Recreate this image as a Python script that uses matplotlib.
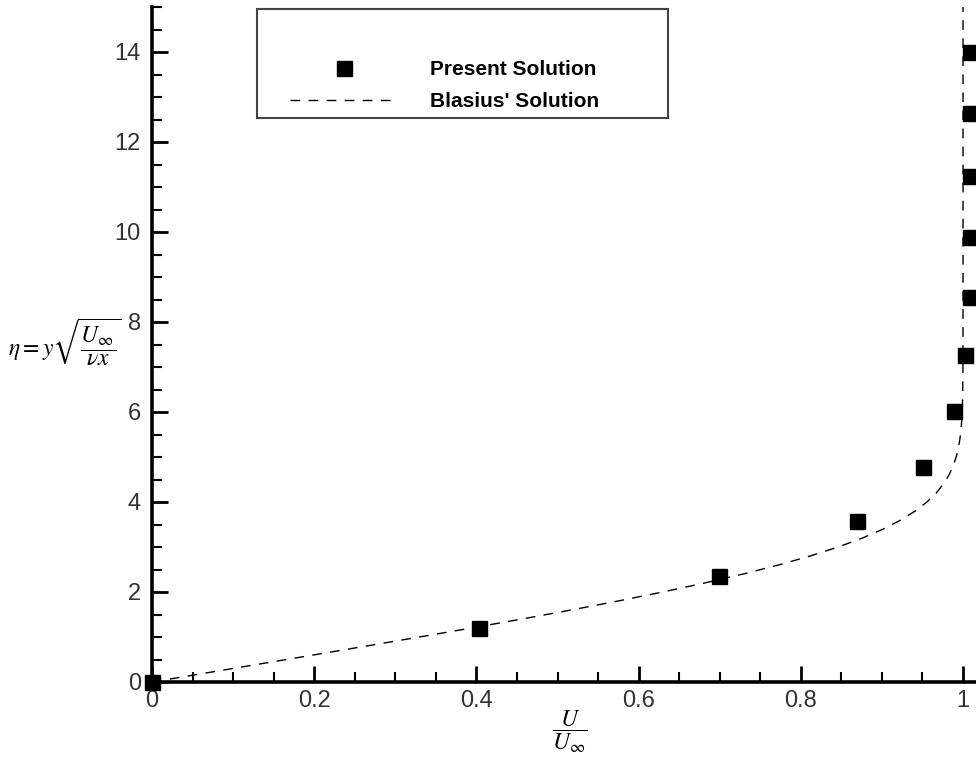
import numpy as np
import matplotlib
matplotlib.use("Agg")
import matplotlib.pyplot as plt
from matplotlib.ticker import MultipleLocator, FormatStrFormatter
from matplotlib.patches import Rectangle

plt.rcParams['font.family'] = ['Liberation Sans', 'DejaVu Sans']
plt.rcParams['mathtext.fontset'] = 'stix'

# present solution
present_u = [0.0, 0.403, 0.699, 0.869, 0.951, 0.989, 1.003, 1.009, 1.009, 1.009, 1.009, 1.009]
present_eta = [0.0, 1.2, 2.36, 3.57, 4.78, 6.02, 7.27, 8.56, 9.89, 11.24, 12.64, 14.0]

# Blasius profile f'(eta)
blasius_eta = [0.0, 0.2, 0.4, 0.6, 0.8, 1.0, 1.2, 1.4, 1.6, 1.8, 2.0, 2.2, 2.4, 2.6,
               2.8, 3.0, 3.2, 3.4, 3.6, 3.8, 4.0, 4.2, 4.4, 4.6, 4.8, 5.0, 5.2, 5.4,
               5.6, 5.8, 6.0, 6.4, 6.8, 7.2, 8.0, 15.0]
blasius_u = [0.0, 0.06641, 0.13277, 0.19894, 0.26471, 0.32979, 0.39378, 0.45627,
             0.51676, 0.57477, 0.62977, 0.68132, 0.72899, 0.77246, 0.81152, 0.84605,
             0.87609, 0.90177, 0.92333, 0.94112, 0.95552, 0.96696, 0.97587, 0.98269,
             0.98779, 0.99155, 0.99425, 0.99616, 0.99748, 0.99838, 0.99898, 0.99961,
             0.99987, 0.99996, 1.0, 1.0]

fig = plt.figure(figsize=(9.76, 7.67), dpi=100)
ax = fig.add_axes([152/976, 1 - 682/767, 824/976, 675/767])

line, = ax.plot(blasius_u, blasius_eta, color='black', lw=1.0, dashes=(7, 6))
pts, = ax.plot(present_u, present_eta, 's', color='black', ms=10.8, ls='none',
               clip_on=False, zorder=5)

ax.set_xlim(0, 1.016)
ax.set_ylim(0, 15)
ax.spines['top'].set_visible(False)
ax.spines['right'].set_visible(False)
ax.spines['left'].set_linewidth(2.6)
ax.spines['bottom'].set_linewidth(2.6)

ax.xaxis.set_major_locator(MultipleLocator(0.2))
ax.xaxis.set_minor_locator(MultipleLocator(0.05))
ax.yaxis.set_major_locator(MultipleLocator(2))
ax.yaxis.set_minor_locator(MultipleLocator(0.5))
ax.xaxis.set_major_formatter(FormatStrFormatter('%g'))
ax.tick_params(which='both', direction='in', top=False, right=False, labelsize=17)
ax.tick_params(which='major', length=11.5, width=2)
ax.tick_params(which='minor', length=7, width=1.5)
ax.tick_params(axis='y', which='major', pad=8)
ax.tick_params(axis='x', which='major', pad=6)
for lab in ax.get_xticklabels() + ax.get_yticklabels():
    lab.set_color('#333333')

ax.set_ylabel(r'$\eta = y\sqrt{\dfrac{U_\infty}{\nu x}}$', fontsize=17, rotation=0,
              ha='right', va='center')
ax.yaxis.set_label_coords(-0.036, 0.505)
ax.set_xlabel(r'$\dfrac{U}{U_\infty}$', fontsize=17, va='center')
ax.xaxis.set_label_coords(0.507, -0.073)

# legend box
fig.patches.append(Rectangle((257/976, 1 - 118/767), 411/976, 109/767,
                             transform=fig.transFigure, fill=False,
                             edgecolor='#444444', lw=1.5))
fig.legend([pts, line], ['Present Solution', "Blasius' Solution"],
           loc='upper left', bbox_to_anchor=(290/976, 1 - 60/767),
           frameon=False, borderpad=0, borderaxespad=0, handlelength=5.2,
           handletextpad=1.5, labelspacing=0.64, numpoints=1,
           prop={'weight': 'bold', 'size': 15})

fig.savefig('out.png', dpi=100)
